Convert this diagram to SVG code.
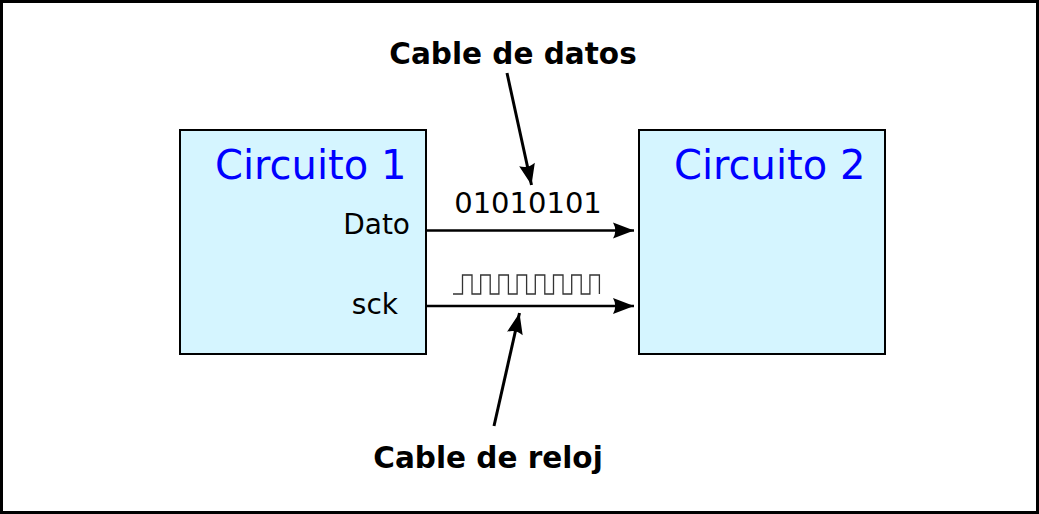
<svg xmlns="http://www.w3.org/2000/svg" width="1039" height="514" viewBox="0 0 1039 514">
<style>
.box{fill:#d5f5ff;stroke:#000;stroke-width:2}
.title{font-family:"DejaVu Sans",sans-serif;font-size:40px;fill:#0000ff}
.lbl{font-family:"DejaVu Sans",sans-serif;font-size:28px;fill:#000}
.num{font-family:"DejaVu Sans",sans-serif;font-size:29px;fill:#000}
.cap{font-family:"DejaVu Sans",sans-serif;font-size:29.5px;font-weight:bold;fill:#000}
.wire{fill:none;stroke:#000;stroke-width:2.5}
.call{fill:none;stroke:#000;stroke-width:3}
</style>
<defs>
<marker id="ah" viewBox="-22 -9 24 18" refX="0" refY="0" markerUnits="userSpaceOnUse" markerWidth="24" markerHeight="18" orient="auto">
<path d="M0,0 L-21,-8 Q-16.5,0 -21,8 Z" fill="#000"/>
</marker>
</defs>
<rect x="1.5" y="1.5" width="1036" height="511" fill="#fff" stroke="#000" stroke-width="3"/>
<g id="circuito1">
<rect class="box" x="180" y="130" width="246" height="224"/>
<text class="title" x="215" y="179">Circuito 1</text>
<text class="lbl" x="410" y="234" text-anchor="end">Dato</text>
<text class="lbl" x="398" y="314" text-anchor="end">sck</text>
</g>
<g id="circuito2">
<rect class="box" x="639" y="130" width="246" height="224"/>
<text class="title" x="674" y="179">Circuito 2</text>
</g>
<g id="labels">
<text class="num" x="528" y="213" text-anchor="middle">01010101</text>
<polyline fill="none" stroke="#333" stroke-width="1.3" points="453,294 462.5,294 462.5,275 472,275 472,294 480.7,294 480.7,275 490.2,275 490.2,294 498.9,294 498.9,275 508.4,275 508.4,294 517.1,294 517.1,275 526.6,275 526.6,294 535.3,294 535.3,275 544.8,275 544.8,294 553.5,294 553.5,275 563,275 563,294 571.7,294 571.7,275 581.2,275 581.2,294 589.9,294 589.9,275 599.4,275 599.4,294"/>
<text class="cap" x="513" y="64" text-anchor="middle">Cable de datos</text>
<text class="cap" x="488" y="468" text-anchor="middle">Cable de reloj</text>
</g>
<g id="connectors">
<line class="wire" x1="426" y1="230.5" x2="634" y2="230.5" marker-end="url(#ah)"/>
<line class="wire" x1="426" y1="306" x2="634" y2="306" marker-end="url(#ah)"/>
<line class="call" x1="507" y1="73" x2="531.5" y2="185" marker-end="url(#ah)"/>
<line class="call" x1="494" y1="426" x2="519.5" y2="313" marker-end="url(#ah)"/>
</g>
</svg>
